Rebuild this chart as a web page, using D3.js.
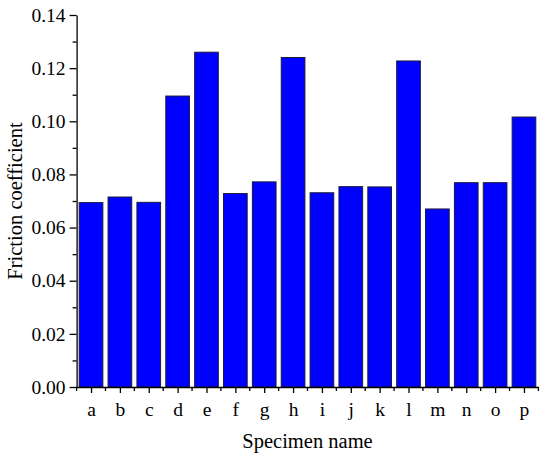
<!DOCTYPE html>
<html>
<head>
<meta charset="utf-8">
<script src="https://cdn.jsdelivr.net/npm/d3@7"></script>
<style>
body { margin: 0; background: #fff; }
svg { display: block; }
</style>
</head>
<body>
<svg id="chart" width="550" height="462"></svg>
<script>
const categories = ["a","b","c","d","e","f","g","h","i","j","k","l","m","n","o","p"];
const values = [0.0694, 0.0715, 0.0695, 0.1095, 0.1260, 0.0728, 0.0772, 0.1240, 0.0731, 0.0754, 0.0753, 0.1227, 0.0670, 0.0769, 0.0769, 0.1016];
const yTicks = [0, 0.02, 0.04, 0.06, 0.08, 0.10, 0.12, 0.14];
const yMinorTicks = [0.01, 0.03, 0.05, 0.07, 0.09, 0.11, 0.13];
const xTitle = "Specimen name";
const yTitle = "Friction coefficient";

(function () {
const FONT = "'Liberation Serif', 'Times New Roman', serif";
const svg = d3.select("#chart");
const mLeft = 76.6, mRight = 538.4, mTop = 15, mBottom = 387;

const x = d3.scaleBand().domain(categories).range([mLeft, mRight]).paddingInner(0.18).paddingOuter(0.09);
const xPos = d3.scalePoint().domain(categories).range([mLeft, mRight]).padding(0.5);
const y = d3.scaleLinear().domain([0, 0.14]).range([mBottom, mTop]);

// bars
svg.append("g").selectAll("rect").data(values).join("rect")
  .attr("x", (d, i) => xPos(categories[i]) - x.bandwidth() / 2)
  .attr("width", x.bandwidth())
  .attr("y", d => y(d))
  .attr("height", d => y(0) - y(d))
  .attr("fill", "#0000ff")
  .attr("stroke", "#1a1a40")
  .attr("stroke-width", 1);

// y axis
const yAxis = svg.append("g").attr("transform", `translate(${mLeft},0)`)
  .call(d3.axisLeft(y).tickValues(yTicks).tickFormat(d3.format(".2f")).tickSizeInner(7).tickSizeOuter(0).tickPadding(4));
yAxis.attr("font-family", FONT).attr("font-size", 19.5);
yAxis.selectAll("text").attr("fill", "#000");
yAxis.selectAll("line, path").attr("stroke", "#000").attr("stroke-width", 1.3);
svg.append("g").attr("transform", `translate(${mLeft},0)`)
  .call(d3.axisLeft(y).tickValues(yMinorTicks).tickFormat("").tickSizeInner(4).tickSizeOuter(0))
  .call(g => g.select(".domain").remove())
  .selectAll("line").attr("stroke", "#000").attr("stroke-width", 1.3);

// x axis
const xAxis = svg.append("g").attr("transform", `translate(0,${mBottom})`)
  .call(d3.axisBottom(xPos).tickSizeInner(6).tickSizeOuter(0).tickPadding(9));
xAxis.attr("font-family", FONT).attr("font-size", 19.5);
xAxis.selectAll("text").attr("fill", "#000");
xAxis.selectAll("line, path").attr("stroke", "#000").attr("stroke-width", 1.3);
const step = xPos.step();
const minorX = d3.range(categories.length + 1).map(i => mLeft + i * step);
svg.append("g").selectAll("line").data(minorX).join("line")
  .attr("x1", d => d).attr("x2", d => d)
  .attr("y1", mBottom).attr("y2", mBottom + 4)
  .attr("stroke", "#000").attr("stroke-width", 1.3);

// titles
svg.append("text").attr("x", (mLeft + mRight) / 2).attr("y", 448)
  .attr("text-anchor", "middle").attr("font-family", FONT).attr("font-size", 20.5).text(xTitle);
svg.append("text").attr("transform", `translate(22,${(mTop + mBottom) / 2}) rotate(-90)`)
  .attr("text-anchor", "middle").attr("font-family", FONT).attr("font-size", 20.5).text(yTitle);
})();
</script>
</body>
</html>
